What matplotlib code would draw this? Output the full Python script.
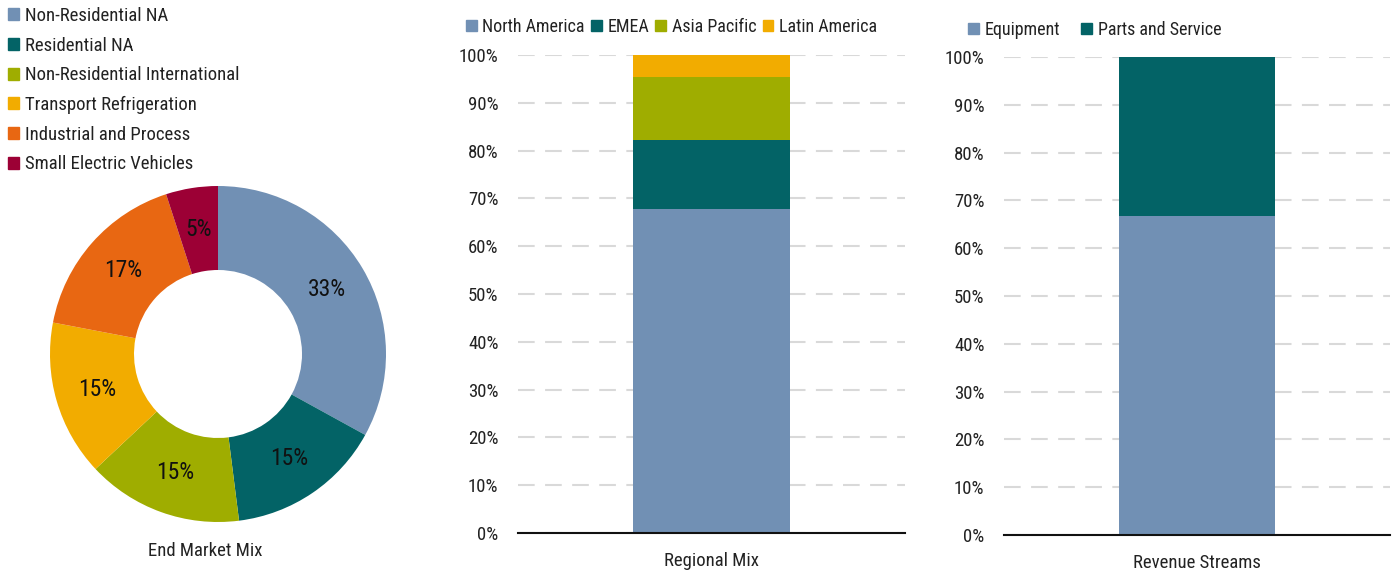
import matplotlib.pyplot as plt
from matplotlib.patches import Patch
from matplotlib.ticker import PercentFormatter

plt.rcParams["font.family"] = ["Roboto Condensed", "Archivo Narrow", "DejaVu Sans"]
plt.rcParams["text.color"] = "#222222"

# end market mix (donut)
market_labels = ["Non-Residential NA", "Residential NA", "Non-Residential International",
                 "Transport Refrigeration", "Industrial and Process", "Small Electric Vehicles"]
market_values = [33, 15, 15, 15, 17, 5]
market_colors = ["#7190b4", "#036366", "#9fad00", "#f2ac00", "#e86712", "#9c0035"]

# regional mix (stacked bar)
region_labels = ["North America", "EMEA", "Asia Pacific", "Latin America"]
region_values = [67.7, 14.5, 13.2, 4.6]
region_colors = ["#7190b4", "#036366", "#9fad00", "#f2ac00"]

# revenue streams (stacked bar)
stream_labels = ["Equipment", "Parts and Service"]
stream_values = [66.8, 33.2]
stream_colors = ["#7190b4", "#036366"]

W, H = 1395, 573
FS = 13.5
fig = plt.figure(figsize=(W / 100, H / 100), dpi=100)


def px_axes(left, top, right, bottom):
    return fig.add_axes([left / W, 1 - bottom / H, (right - left) / W, (bottom - top) / H])


# --- donut ---
ax = px_axes(48, 184, 388, 524)
ax.pie(market_values, colors=market_colors, startangle=90, counterclock=False,
       radius=1, wedgeprops=dict(width=0.5, linewidth=0),
       autopct="%d%%", pctdistance=0.75, textprops=dict(fontsize=17, color="#111111"))
lim = 170 / 168
ax.set_xlim(-lim, lim)
ax.set_ylim(-lim, lim)
ax.set_aspect("equal")
ax.axis("off")
fig.text(205 / W, 1 - 551 / H, "End Market Mix", ha="center", va="center", fontsize=FS)

fig.legend(handles=[Patch(color=c) for c in market_colors], labels=market_labels,
           loc="upper left", bbox_to_anchor=(8 / W, 1 - 7 / H), frameon=False,
           fontsize=FS, handlelength=0.6, handleheight=0.6, handletextpad=0.3,
           labelspacing=0.62, borderpad=0, borderaxespad=0)


def stacked(ax, values, colors, name):
    bottom = 0
    for v, c in zip(values, colors):
        ax.bar([0], [v], bottom=bottom, width=0.405, color=c, zorder=2)
        bottom += v
    ax.set_xlim(-0.5, 0.5)
    ax.set_ylim(0, 100)
    ax.set_yticks(range(0, 101, 10))
    ax.yaxis.set_major_formatter(PercentFormatter(decimals=0))
    ax.set_xticks([0])
    ax.set_xticklabels([name])
    ax.tick_params(axis="y", length=0, pad=14, labelsize=FS, labelcolor="#222222")
    ax.tick_params(axis="x", length=0, pad=14, labelsize=FS, labelcolor="#222222")
    ax.grid(axis="y", color="#d9d9d9", linewidth=1.5, linestyle=(0, (8, 5)), zorder=0)
    for s in ["top", "right", "left"]:
        ax.spines[s].set_visible(False)
    ax.spines["bottom"].set_color("#111111")
    ax.spines["bottom"].set_linewidth(1.5)
    ax.spines["bottom"].set_zorder(3)


ax2 = px_axes(518, 55, 905, 533)
stacked(ax2, region_values, region_colors, "Regional Mix")
fig.legend(handles=[Patch(color=c) for c in region_colors], labels=region_labels,
           loc="center left", bbox_to_anchor=(466 / W, 1 - 27 / H), ncol=4, frameon=False,
           fontsize=13, handlelength=0.6, handleheight=0.6, handletextpad=0.3,
           columnspacing=0.35, borderpad=0, borderaxespad=0)

ax3 = px_axes(1004, 57, 1390, 535)
stacked(ax3, stream_values, stream_colors, "Revenue Streams")
fig.legend(handles=[Patch(color=c) for c in stream_colors], labels=stream_labels,
           loc="center left", bbox_to_anchor=(968 / W, 1 - 30 / H), ncol=2, frameon=False,
           fontsize=13, handlelength=0.6, handleheight=0.6, handletextpad=0.3,
           columnspacing=1.2, borderpad=0, borderaxespad=0)

fig.savefig("out.png", dpi=100)
